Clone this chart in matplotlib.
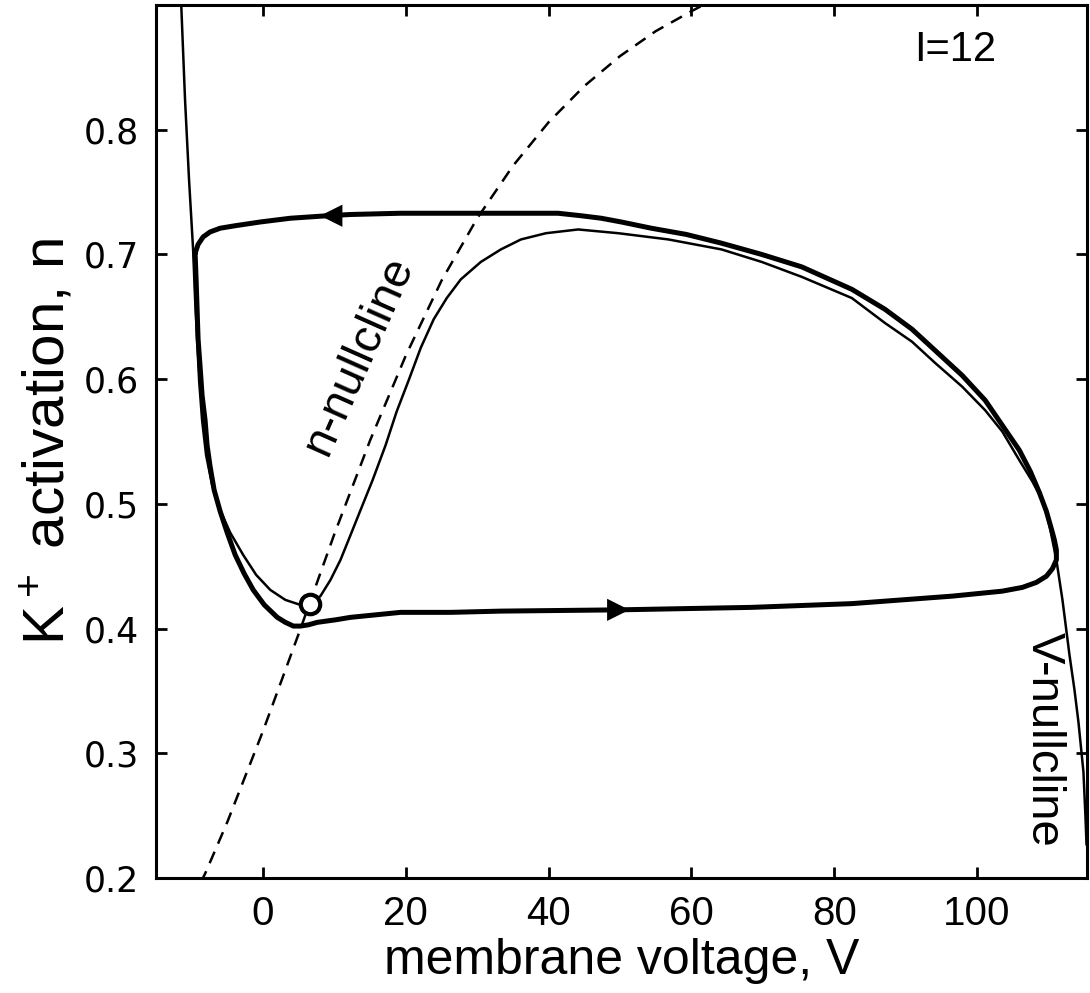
#! /usr/bin/env python3

import matplotlib
matplotlib.use('Agg')
import matplotlib.pyplot as plt

OUTPUT_FILE = 'out.png'

# n-nullcline (dashed)
n_null_v = [-10, -8, -5, 0, 5, 10, 15, 20, 25, 30, 35, 40, 45, 50, 55, 60, 62]
n_null_n = [0.181, 0.205, 0.245, 0.318, 0.396, 0.476, 0.551, 0.619, 0.679,
            0.729, 0.771, 0.806, 0.835, 0.859, 0.879, 0.895, 0.901]

# V-nullcline (thin solid)
v_null_v = [-11.49, -10.93, -10.37, -9.80, -9.52, -9.24, -8.96, -8.54, -7.98,
            -7.13, -6.01, -4.61, -2.78, -0.96, 1.01, 3.12, 5.22, 6.63, 8.03,
            9.44, 10.84, 12.25, 13.65, 15.34, 17.16, 18.71, 20.39, 22.08,
            23.90, 25.73, 27.70, 30.51, 33.31, 36.12, 39.63, 44.13, 49.75,
            56.77, 64.21, 69.83, 75.45, 82.47, 87.11, 90.90, 94.13, 97.92,
            101.15, 103.54, 105.93, 107.75, 109.16, 110.14, 111.12, 111.97,
            112.95, 113.65, 114.21, 114.91, 115.20, 115.34]
v_null_n = [0.904, 0.824, 0.760, 0.704, 0.664, 0.632, 0.599, 0.567, 0.539,
            0.515, 0.495, 0.477, 0.459, 0.443, 0.431, 0.423, 0.419, 0.421,
            0.426, 0.439, 0.455, 0.475, 0.495, 0.519, 0.547, 0.574, 0.599,
            0.625, 0.648, 0.665, 0.680, 0.694, 0.704, 0.712, 0.717, 0.720,
            0.717, 0.712, 0.704, 0.694, 0.682, 0.665, 0.645, 0.630, 0.613,
            0.594, 0.575, 0.558, 0.535, 0.518, 0.503, 0.483, 0.455, 0.423,
            0.379, 0.351, 0.325, 0.285, 0.248, 0.227]

# limit cycle (thick solid), starting at the upper left corner
cycle_v = [-9.52, -9.38, -9.24, -9.10, -8.82, -8.54, -8.12, -7.84, -7.42,
           -6.85, -6.01, -5.03, -3.90, -2.64, -1.38, 0.17, 1.99, 3.12, 4.24,
           5.22, 6.35, 7.61, 10.14, 12.25, 15.76, 19.27, 26.29, 33.31, 49.75,
           68.43, 82.47, 89.49, 96.52, 103.54, 106.35, 108.31, 109.72, 110.56,
           111.12, 111.12, 110.84, 110.56, 109.72, 108.74, 107.47, 105.93,
           103.54, 101.15, 97.92, 94.13, 90.90, 87.11, 82.47, 75.45, 69.83,
           64.21, 59.30, 54.38, 50.17, 47.36, 44.55, 41.32, 30.08, 19.27,
           12.25, 9.02, 3.82, -0.39, -3.90, -6.01, -7.42, -8.40, -9.10, -9.52]
cycle_n = [0.701, 0.680, 0.656, 0.632, 0.610, 0.587, 0.567, 0.547, 0.530,
           0.511, 0.494, 0.477, 0.459, 0.444, 0.431, 0.419, 0.409, 0.405,
           0.402, 0.402, 0.403, 0.405, 0.407, 0.409, 0.411, 0.413, 0.413,
           0.414, 0.415, 0.417, 0.420, 0.423, 0.426, 0.430, 0.433, 0.437,
           0.442, 0.448, 0.455, 0.463, 0.471, 0.477, 0.494, 0.509, 0.526,
           0.543, 0.563, 0.583, 0.603, 0.623, 0.640, 0.656, 0.672, 0.690,
           0.700, 0.709, 0.716, 0.721, 0.726, 0.729, 0.731, 0.733, 0.733,
           0.733, 0.732, 0.731, 0.729, 0.726, 0.723, 0.721, 0.718, 0.714,
           0.708, 0.701]

# arrow heads (tip, tail) on the cycle
arrows = [((8.0, 0.731), (10.5, 0.731)), ((51.3, 0.415), (48.8, 0.415))]

# equilibrium
eq_v = 6.6
eq_n = 0.42

current = 'I=12'

SANS = ['Liberation Sans', 'DejaVu Sans']
plt.rcParams['mathtext.fontset'] = 'custom'
plt.rcParams['mathtext.rm'] = 'Liberation Sans'

fig = plt.figure(figsize=(10.9, 9.93), dpi=100)
ax = fig.add_axes([0.1431, 0.1158, 0.8541, 0.8792])

ax.plot(n_null_v, n_null_n, color='k', lw=1.8, ls=(0, (5, 3.5)))
ax.plot(v_null_v, v_null_n, color='k', lw=1.8, solid_joinstyle='round')
ax.plot(cycle_v, cycle_n, color='k', lw=3.6, solid_joinstyle='round',
        solid_capstyle='round')
for tip, tail in arrows:
    ax.annotate('', xy=tip, xytext=tail,
                arrowprops=dict(arrowstyle='-|>,head_length=0.8,head_width=0.4',
                                color='k', lw=0, shrinkA=0, shrinkB=0,
                                mutation_scale=20))
ax.plot([eq_v], [eq_n], 'o', ms=14, mfc='white', mec='k', mew=3, zorder=5)

ax.text(96.9, 0.864, current, fontsize=30, family=SANS,
        ha='center', va='center')
ax.text(13.4, 0.619, 'n-nullcline', fontsize=34, family=SANS,
        rotation=66, ha='center', va='center')
ax.text(109.3, 0.311, 'V-nullcline', fontsize=34, family=SANS,
        rotation=-90, ha='center', va='center')

ax.set_xlim(-15, 115.4)
ax.set_ylim(0.2, 0.9)
ax.set_xticks([0, 20, 40, 60, 80, 100])
ax.set_yticks([0.2, 0.3, 0.4, 0.5, 0.6, 0.7, 0.8])
ax.tick_params(direction='in', length=8, width=2, top=True, right=True,
               pad=12)
for lab in ax.get_xticklabels():
    lab.set_fontsize(29)
    lab.set_family(SANS)
for lab in ax.get_yticklabels():
    lab.set_fontsize(25)
    lab.set_family(['DejaVu Sans'])
for s in ax.spines.values():
    s.set_linewidth(2.2)

ax.set_xlabel('membrane voltage, V', fontsize=36, family=SANS, labelpad=4)
ax.set_ylabel(r'$\mathregular{K^+}$ activation, n', fontsize=42,
              family=SANS, labelpad=6)

fig.savefig(OUTPUT_FILE, dpi=100)
